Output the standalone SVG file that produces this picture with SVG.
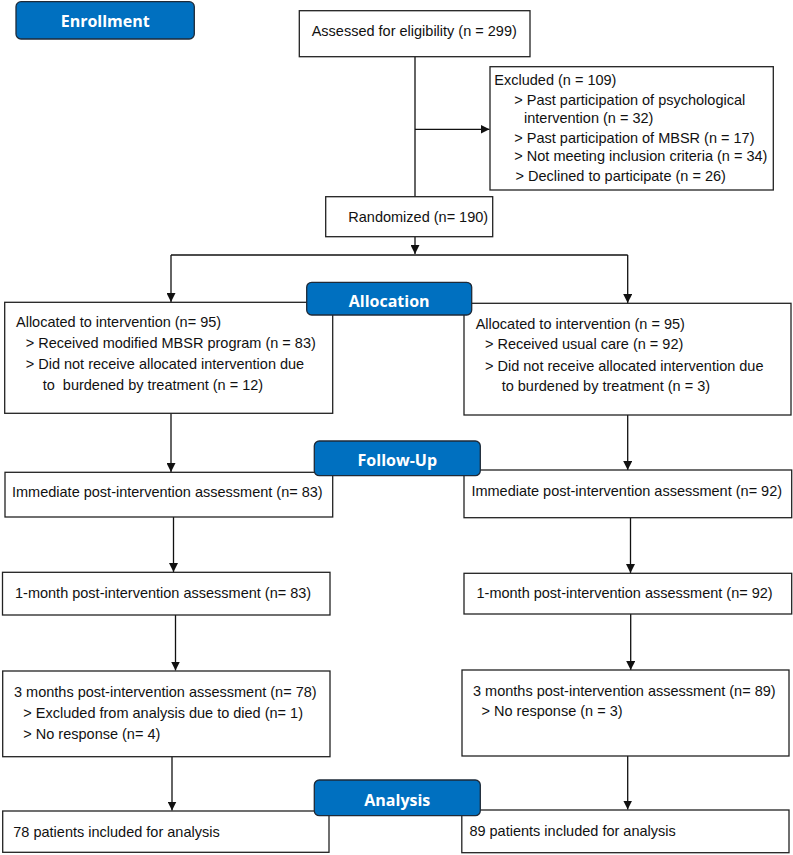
<svg xmlns="http://www.w3.org/2000/svg" width="793" height="855" viewBox="0 0 793 855">
<defs>
<style>
.box{fill:#fff;stroke:#222;stroke-width:1.3}
.lbl{fill:#0070c0;stroke:#1e2a38;stroke-width:1.3}
.lt{font-family:"Open Sans","Noto Sans",sans-serif;font-weight:700;font-size:16px;fill:#fff;text-anchor:middle}
.t{font-family:"Liberation Sans",Arial,sans-serif;font-size:14.5px;fill:#111}
.ln{stroke:#111;stroke-width:1.3;fill:none}
</style>
<marker id="ah" viewBox="0 0 10 10" refX="10" refY="5" markerWidth="7.5" markerHeight="7.5" orient="auto" markerUnits="userSpaceOnUse">
<path d="M0,0 L10,5 L0,10 Z" fill="#111"/>
</marker>
<marker id="ah2" viewBox="0 0 10 10" refX="10" refY="5" markerWidth="9" markerHeight="9" orient="auto" markerUnits="userSpaceOnUse">
<path d="M0,0 L10,5 L0,10 Z" fill="#111"/>
</marker>
</defs>

<g id="connectors">
<path class="ln" d="M415,56.7 V197"/>
<path class="ln" d="M415,129.3 H489.5" marker-end="url(#ah2)"/>
<path class="ln" d="M415,237 V254" marker-end="url(#ah2)"/>
<path class="ln" d="M171,255 H627.7"/>
<path class="ln" d="M171,255 V302" marker-end="url(#ah2)"/>
<path class="ln" d="M627.7,255 V303" marker-end="url(#ah2)"/>
<path class="ln" d="M171,413.3 V472" marker-end="url(#ah2)"/>
<path class="ln" d="M627.7,415 V470" marker-end="url(#ah2)"/>
<path class="ln" d="M173.5,517 V572" marker-end="url(#ah2)"/>
<path class="ln" d="M630.5,518 V573" marker-end="url(#ah2)"/>
<path class="ln" d="M175.5,615 V670.5" marker-end="url(#ah2)"/>
<path class="ln" d="M630.7,614 V670" marker-end="url(#ah2)"/>
<path class="ln" d="M172,757 V810.5" marker-end="url(#ah2)"/>
<path class="ln" d="M627.7,756 V809.5" marker-end="url(#ah2)"/>
</g>

<g id="assessed">
<rect class="box" x="299.3" y="10.7" width="230.7" height="46"/>
<text class="t" x="311.7" y="36">Assessed for eligibility (n = 299)</text>
</g>

<g id="excluded">
<rect class="box" x="490" y="66.7" width="283.3" height="123.3"/>
<text class="t" x="494.3" y="85.2">Excluded (n = 109)</text>
<text class="t" x="514.3" y="104.5">&gt; Past participation of psychological</text>
<text class="t" x="524" y="122.5">intervention (n = 32)</text>
<text class="t" x="514.3" y="142.5">&gt; Past participation of MBSR (n = 17)</text>
<text class="t" x="514.3" y="160.9">&gt; Not meeting inclusion criteria (n = 34)</text>
<text class="t" x="515.5" y="180.9">&gt; Declined to participate (n = 26)</text>
</g>

<g id="randomized">
<rect class="box" x="325.7" y="196.7" width="167" height="40"/>
<text class="t" x="348.3" y="221.9">Randomized (n= 190)</text>
</g>

<g id="alloc-left">
<rect class="box" x="4.7" y="302.3" width="328" height="111"/>
<text class="t" x="16" y="327.3">Allocated to intervention (n= 95)</text>
<text class="t" x="25.7" y="348">&gt; Received modified MBSR program (n = 83)</text>
<text class="t" x="25.7" y="369.2">&gt; Did not receive allocated intervention due</text>
<text class="t" x="42.7" y="389.5" xml:space="preserve">to  burdened by treatment (n = 12)</text>
</g>

<g id="alloc-right">
<rect class="box" x="464" y="303.3" width="327" height="111.7"/>
<text class="t" x="475.7" y="328.5">Allocated to intervention (n = 95)</text>
<text class="t" x="485" y="349.2">&gt; Received usual care (n = 92)</text>
<text class="t" x="485" y="370.9">&gt; Did not receive allocated intervention due</text>
<text class="t" x="501.7" y="390.9">to burdened by treatment (n = 3)</text>
</g>

<g id="imm-left">
<rect class="box" x="5" y="472.3" width="327.7" height="44.7"/>
<text class="t" x="12" y="497.2">Immediate post-intervention assessment (n= 83)</text>
</g>

<g id="imm-right">
<rect class="box" x="464" y="470" width="327.7" height="47.7"/>
<text class="t" x="471.4" y="496.2">Immediate post-intervention assessment (n= 92)</text>
</g>

<g id="m1-left">
<rect class="box" x="2.5" y="572.3" width="327.5" height="42.7"/>
<text class="t" x="15" y="597.9">1-month post-intervention assessment (n= 83)</text>
</g>

<g id="m1-right">
<rect class="box" x="464" y="573.3" width="327.7" height="40.7"/>
<text class="t" x="476.5" y="597.9">1-month post-intervention assessment (n= 92)</text>
</g>

<g id="m3-left">
<rect class="box" x="2.7" y="671" width="327.3" height="85.7"/>
<text class="t" x="14" y="696.9">3 months post-intervention assessment (n= 78)</text>
<text class="t" x="23.3" y="717.5">&gt; Excluded from analysis due to died (n= 1)</text>
<text class="t" x="23.3" y="738.5">&gt; No response (n= 4)</text>
</g>

<g id="m3-right">
<rect class="box" x="462" y="670" width="327" height="86"/>
<text class="t" x="473" y="695.9">3 months post-intervention assessment (n= 89)</text>
<text class="t" x="481.5" y="715.9">&gt; No response (n = 3)</text>
</g>

<g id="final-left">
<rect class="box" x="2.7" y="811" width="326.3" height="41.3"/>
<text class="t" x="13.3" y="836.9">78 patients included for analysis</text>
</g>

<g id="final-right">
<rect class="box" x="461.8" y="810" width="327.2" height="42.7"/>
<text class="t" x="469.4" y="836.2">89 patients included for analysis</text>
</g>

<g id="label-enrollment">
<rect class="lbl" x="16" y="1.7" width="178.3" height="37.3" rx="5"/>
<text class="lt" x="105.2" y="26.5">Enrollment</text>
</g>
<g id="label-allocation">
<rect class="lbl" x="306.7" y="282.3" width="165" height="32.7" rx="5"/>
<text class="lt" x="389.2" y="307.3">Allocation</text>
</g>
<g id="label-followup">
<rect class="lbl" x="314.3" y="441" width="166" height="34.7" rx="5"/>
<text class="lt" x="397.3" y="466.3">Follow-Up</text>
</g>
<g id="label-analysis">
<rect class="lbl" x="314.3" y="780" width="166" height="35.7" rx="5"/>
<text class="lt" x="397.3" y="805.5">Analysis</text>
</g>
</svg>
